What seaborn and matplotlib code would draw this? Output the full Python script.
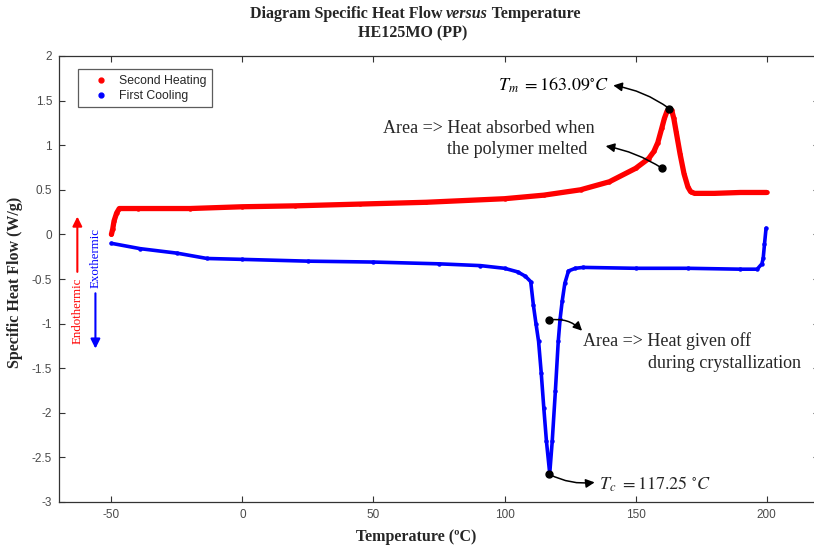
import numpy as np
import pandas as pd
import seaborn as sns
import matplotlib
matplotlib.use("Agg")
import matplotlib.pyplot as plt
from matplotlib.lines import Line2D

# ---- data ----
heat_T = [-50, -49.5, -49, -48, -47, -40, -20, 0, 20, 45, 70, 100, 115, 129, 140,
          150, 155, 157, 158.5, 160, 161, 162, 162.9, 163.8, 164.6, 165.5, 167, 168.5, 170,
          171, 172.5, 180, 190, 200]
heat_Q = [0.0, 0.06, 0.15, 0.24, 0.29, 0.29, 0.29, 0.31, 0.32, 0.34, 0.36, 0.40, 0.44, 0.50, 0.59,
          0.74, 0.85, 0.93, 1.03, 1.19, 1.30, 1.38, 1.41, 1.39, 1.30, 1.15, 0.90, 0.68, 0.53,
          0.48, 0.46, 0.46, 0.47, 0.47]

cool_T = [-50, -39, -25, -13.5, 0, 25, 50, 75, 90.8, 100, 105, 108, 110, 111, 112, 113, 114,
          115, 116, 117.25, 118.2, 119.4, 120.5, 121.2, 122, 123, 124.4, 127, 130, 150, 170,
          190, 196.4, 198.2, 198.7, 199.2, 199.8]
cool_Q = [-0.10, -0.16, -0.21, -0.27, -0.28, -0.30, -0.31, -0.33, -0.35, -0.38, -0.42, -0.47,
          -0.53, -0.79, -1.00, -1.20, -1.55, -1.95, -2.32, -2.68, -2.32, -1.76, -1.20, -0.95,
          -0.75, -0.55, -0.41, -0.38, -0.37, -0.38, -0.38, -0.39, -0.39, -0.33, -0.27, -0.11, 0.07]

series_names = ["Second Heating", "First Cooling"]
series_colors = ["#ff0000", "#0000ff"]

x_ticks = [-50, 0, 50, 100, 150, 200]
y_ticks = [-3, -2.5, -2, -1.5, -1, -0.5, 0, 0.5, 1, 1.5, 2]
y_tick_labels = ["-3", "-2.5", "-2", "-1.5", "-1", "-0.5", "0", "0.5", "1", "1.5", "2"]

tm_point = (162.9, 1.41)
tm_label = r"$T_m\ = 163.09^{\circ}C$"
melt_point = (160.2, 0.74)
tc_point = (117.1, -2.69)
tc_label = r"$T_c\ = 117.25\ ^{\circ}C$"
cryst_point = (117.1, -0.96)

title_1 = ["Diagram Specific Heat Flow ", "versus", " Temperature"]
title_2 = "HE125MO (PP)"
x_label = "Temperature (\u00baC)"
y_label = "Specific Heat Flow (W/g)"

# ---- build frame ----
df = pd.concat([
    pd.DataFrame({"T": heat_T, "Q": heat_Q, "series": series_names[0]}),
    pd.DataFrame({"T": cool_T, "Q": cool_Q, "series": series_names[1]}),
], ignore_index=True)

sns.set_theme(style="white")
plt.rcParams["mathtext.fontset"] = "stix"
serif = "Liberation Serif"
sans = "Liberation Sans"

W, H = 814, 547
fig = plt.figure(figsize=(W / 100, H / 100), dpi=100)
ax = fig.add_axes([59 / W, 1 - 502 / H, 760 / W, 446 / H])

palette = dict(zip(series_names, series_colors))
lw = {series_names[0]: 3.8, series_names[1]: 2.6}
for name in series_names:
    sub = df[df["series"] == name]
    sns.lineplot(data=sub, x="T", y="Q", color=palette[name], sort=False, estimator=None,
                 lw=lw[name], marker="o", markersize=3.2, markeredgewidth=0, ax=ax,
                 legend=False, solid_capstyle="round", solid_joinstyle="round")

ax.set_xlim(-70, 220)
ax.set_ylim(-3, 2)
ax.set_xticks(x_ticks)
ax.set_yticks(y_ticks)
ax.set_xticklabels([str(t) for t in x_ticks])
ax.set_yticklabels(y_tick_labels)
ax.set_xlabel("")
ax.set_ylabel("")
ax.tick_params(direction="in", length=4, width=0.8, colors="#333333", labelcolor="#4a4a4a",
               labelsize=8.5, top=True, right=True, bottom=True, left=True, pad=5)
for lab in ax.get_xticklabels() + ax.get_yticklabels():
    lab.set_fontfamily(sans)
for s in ax.spines.values():
    s.set_color("#333333")
    s.set_linewidth(0.9)

# legend
handles = [Line2D([], [], ls="none", marker="o", markersize=3.5, color=c) for c in series_colors]
leg = ax.legend(handles, series_names, loc="upper left", bbox_to_anchor=(0.025, 0.97),
                frameon=True, fancybox=False, prop={"family": sans, "size": 8.8},
                handlelength=2.8, handletextpad=0.1, borderpad=0.45, labelspacing=0.25,
                borderaxespad=0)
leg.get_frame().set_edgecolor("#333333")
leg.get_frame().set_linewidth(0.9)

# annotation markers
for p in [tm_point, melt_point, tc_point, cryst_point]:
    ax.plot([p[0]], [p[1]], "o", color="black", markersize=5, zorder=5)

arrow_kw = dict(arrowstyle="-|>", color="black", lw=1.1, mutation_scale=13, shrinkA=0, shrinkB=0)
tfs = 13
ax.annotate("", xy=(141.5, 1.67), xytext=tm_point,
            arrowprops=dict(connectionstyle="arc3,rad=0.12", **arrow_kw))
ax.text(140, 1.67, tm_label, ha="right", va="center", fontsize=tfs, color="black")

ax.annotate("", xy=(138.6, 0.99), xytext=melt_point,
            arrowprops=dict(connectionstyle="arc3,rad=0.1", **arrow_kw))
ax.text(53.7, 1.19, "Area => Heat absorbed when", ha="left", va="center",
        fontsize=tfs, family=serif)
ax.text(78.2, 0.955, "the polymer melted", ha="left", va="center", fontsize=tfs, family=serif)

ax.annotate("", xy=(129.6, -1.08), xytext=cryst_point,
            arrowprops=dict(connectionstyle="arc3,rad=-0.25", **arrow_kw))
ax.text(130, -1.195, "Area => Heat given off", ha="left", va="center", fontsize=tfs, family=serif)
ax.text(154.6, -1.45, "during crystallization", ha="left", va="center", fontsize=tfs, family=serif)

ax.annotate("", xy=(134.4, -2.78), xytext=tc_point,
            arrowprops=dict(connectionstyle="arc3,rad=0.15", **arrow_kw))
ax.text(136, -2.80, tc_label, ha="left", va="center", fontsize=tfs)

# endothermic / exothermic
ax.annotate("", xy=(-63.0, 0.2), xytext=(-63.0, -0.42),
            arrowprops=dict(arrowstyle="-|>", color="#ff0000", lw=1.5, mutation_scale=14,
                            shrinkA=0, shrinkB=0))
ax.text(-63.0, -0.86, "Endothermic", rotation=90, ha="center", va="center", color="#ff0000",
        fontsize=9.3, family=serif)
ax.annotate("", xy=(-56.1, -1.28), xytext=(-56.1, -0.66),
            arrowprops=dict(arrowstyle="-|>", color="#0000ff", lw=1.5, mutation_scale=14,
                            shrinkA=0, shrinkB=0))
ax.text(-56.1, -0.26, "Exothermic", rotation=90, ha="center", va="center", color="#0000ff",
        fontsize=9.3, family=serif)

# titles and labels
fig.canvas.draw()
renderer = fig.canvas.get_renderer()
tfs_title = 11.5
styles = ["normal", "italic", "normal"]
pieces = []
for txt, st in zip(title_1, styles):
    t = fig.text(0, 1 - 14 / H, txt, ha="left", va="center", fontsize=tfs_title,
                 fontweight="bold", fontstyle=st, family=serif)
    pieces.append(t)
widths = [p.get_window_extent(renderer).width for p in pieces]
x0 = 415 - sum(widths) / 2
for p, w in zip(pieces, widths):
    p.set_x(x0 / W)
    x0 += w
fig.text(413 / W, 1 - 33 / H, title_2, ha="center", va="center", fontsize=tfs_title,
         fontweight="bold", family=serif)
fig.text(416 / W, 1 - 537 / H, x_label, ha="center", va="center", fontsize=11.5,
         fontweight="bold", family=serif)
fig.text(15 / W, 1 - 282 / H, y_label, ha="center", va="center", rotation=90, fontsize=11.5,
         fontweight="bold", family=serif)

fig.savefig("out.png", dpi=100)
